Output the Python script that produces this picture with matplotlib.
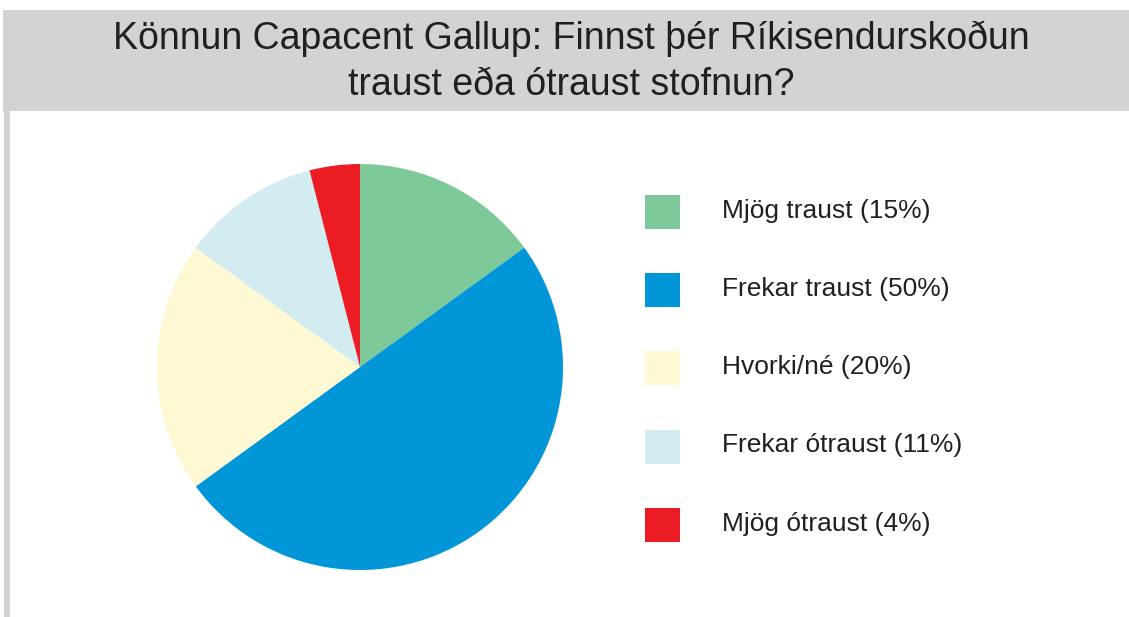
import matplotlib
matplotlib.use("Agg")
import matplotlib.pyplot as plt
from matplotlib.patches import Rectangle

# ---- data ----
title_line1 = "Könnun Capacent Gallup: Finnst þér Ríkisendurskoðun"
title_line2 = "traust eða ótraust stofnun?"
categories = ["Mjög traust", "Frekar traust", "Hvorki/né", "Frekar ótraust", "Mjög ótraust"]
values = [15, 50, 20, 11, 4]
colors = ["#7ec99a", "#0096d8", "#fef9d3", "#d3ecf1", "#ec1c24"]

W, H = 1129, 617
DPI = 100
plt.rcParams['font.family'] = ['Liberation Sans', 'DejaVu Sans']
TXT = "#231f20"
GRAY = "#d1d3d4"

fig = plt.figure(figsize=(W / DPI, H / DPI), dpi=DPI)
fig.patch.set_facecolor("white")

def fx(px):
    return px / W

def fy(py_top):
    return 1 - py_top / H

# header band
fig.patches.append(Rectangle((fx(3), fy(111)), fx(W - 3), (111 - 10) / H,
                             transform=fig.transFigure, facecolor=GRAY,
                             edgecolor="none", zorder=0))
# left vertical bar
fig.patches.append(Rectangle((fx(4), 0), fx(6), fy(111),
                             transform=fig.transFigure, facecolor=GRAY,
                             edgecolor="none", zorder=0))

fig.text(fx(571), fy(49), title_line1, ha="center", va="baseline",
         fontsize=27, color=TXT)
fig.text(fx(571), fy(95), title_line2, ha="center", va="baseline",
         fontsize=27, color=TXT)

# pie
cx, cy, r = 360, 367, 203
ax = fig.add_axes([fx(cx - r), fy(cy + r), 2 * r / W, 2 * r / H])
ax.pie(values, colors=colors, startangle=90, counterclock=False,
       radius=1, wedgeprops=dict(linewidth=0))
ax.set_xlim(-1, 1)
ax.set_ylim(-1, 1)
ax.set_aspect("equal")
ax.axis("off")

# legend
row0, pitch = 212, 78.2
lx0 = 640
top = row0 - pitch / 2
height = pitch * len(categories)
lax = fig.add_axes([fx(lx0), fy(top + height), 360 / W, height / H])
lax.set_xlim(0, 360)
lax.set_ylim(len(categories) - 0.5, -0.5)
lax.axis("off")
sq_h = 34 / pitch
for i, (cat, v, c) in enumerate(zip(categories, values, colors)):
    lax.add_patch(Rectangle((5, i - sq_h / 2), 35, sq_h, facecolor=c,
                            edgecolor="none"))
    lax.text(81.7, i + 5.7 / pitch, f"{cat} ({v}%)", ha="left",
             va="baseline", fontsize=19, color=TXT)

fig.savefig("out.png", dpi=DPI)
